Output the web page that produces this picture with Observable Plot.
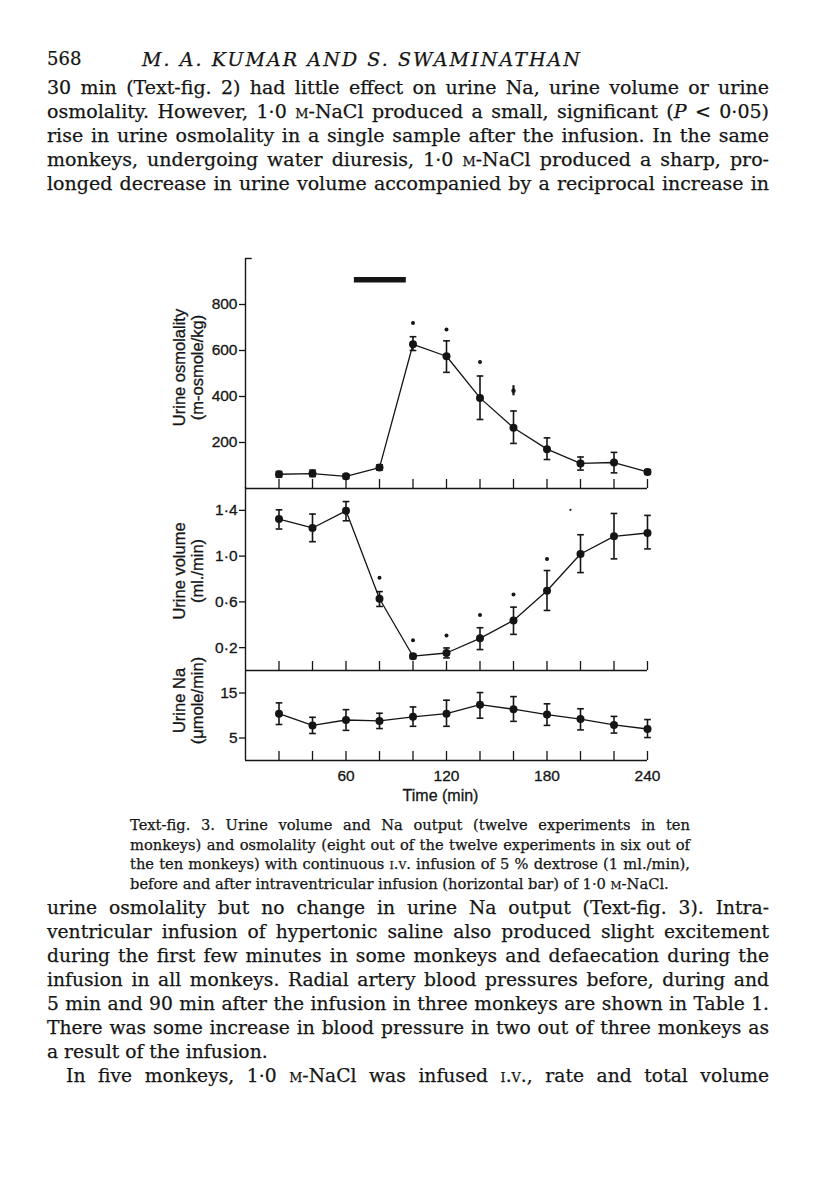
<!DOCTYPE html>
<html><head><meta charset="utf-8">
<script src="https://cdn.jsdelivr.net/npm/d3@7"></script>
<script src="https://cdn.jsdelivr.net/npm/@observablehq/plot@0.6"></script>
<style>
html,body{margin:0;padding:0;background:#fff;}
#page{position:relative;width:816px;height:1199px;overflow:hidden;background:#fff;}
.ln{position:absolute;white-space:nowrap;font-family:"DejaVu Serif",serif;color:#151515;transform-origin:0 50%;-webkit-text-stroke:0.25px #151515;}
.j{text-align:justify;text-align-last:justify;}
.sc{font-variant:small-caps;}
.panel{position:absolute;left:0;}
.panel text{stroke:#151515;stroke-width:0.3px;}
</style></head><body><div id="page"></div>
<script>
// ---------- data ----------
const time = [20, 40, 60, 80, 100, 120, 140, 160, 180, 200, 220, 240];
const osmMean = [62, 65, 53, 91, 627, 575, 394, 264, 171, 109, 113, 72];
const osmLow  = [50, 52, 43, 80, 600, 505, 300, 196, 126, 80, 68, 62];
const osmHigh = [74, 80, 63, 103, 660, 642, 489, 337, 220, 137, 157, 82];
const volMean = [1.324, 1.246, 1.396, 0.627, 0.125, 0.153, 0.281, 0.438, 0.697, 1.019, 1.173, 1.202];
const volLow  = [1.237, 1.126, 1.309, 0.56, 0.105, 0.11, 0.183, 0.316, 0.525, 0.856, 0.976, 1.063];
const volHigh = [1.405, 1.368, 1.477, 0.69, 0.145, 0.197, 0.374, 0.554, 0.874, 1.187, 1.373, 1.356];
const naMean = [10.4, 7.8, 9.0, 8.8, 9.7, 10.4, 12.4, 11.4, 10.2, 9.2, 7.9, 7.0];
const naLow  = [8.0, 6.0, 6.7, 7.1, 7.6, 7.6, 9.4, 8.7, 7.8, 6.8, 6.1, 5.1];
const naHigh = [12.8, 9.6, 11.3, 10.5, 11.9, 13.4, 15.1, 14.2, 12.6, 11.5, 9.8, 9.1];
const osmSigTime = [100, 120, 140];
const osmSigValue = [720, 691, 550];
const osmMarkTime = [160];
const osmMarkLow = [403];
const osmMarkHigh = [447];
const volSigTime = [80, 100, 120, 140, 160, 180];
const volSigValue = [0.81, 0.264, 0.307, 0.485, 0.665, 0.975];
const volStrayTime = [194];
const volStrayValue = [1.405];
const infusionStart = [65];
const infusionEnd = [96];
const infusionLevel = [908];
const timeTicks = [20, 40, 60, 80, 100, 120, 140, 160, 180, 200, 220, 240];
const timeLabels = [60, 120, 180, 240];
const osmTicks = [200, 400, 600, 800];
const volTicks = [0.2, 0.6, 1.0, 1.4];
const naTicks = [5, 15];
const xTitle = "Time (min)";
const osmLabel = "Urine osmolality\n(m-osmole/kg)";
const volLabel = "Urine volume\n(ml./min)";
const naLabel = "Urine Na\n(\u03bcmole/min)";

// ---------- text ----------
const pageNumber = "568";
const runningHead = "M. A. KUMAR AND S. SWAMINATHAN";
const bodyTop = [
  "30 min (Text-fig. 2) had little effect on urine Na, urine volume or urine",
  "osmolality. However, 1·0 <span class='sc'>m</span>-NaCl produced a small, significant (<i>P</i> &lt; 0·05)",
  "rise in urine osmolality in a single sample after the infusion. In the same",
  "monkeys, undergoing water diuresis, 1·0 <span class='sc'>m</span>-NaCl produced a sharp, pro-",
  "longed decrease in urine volume accompanied by a reciprocal increase in"
];
const caption = [
  "Text-fig. 3. Urine volume and Na output (twelve experiments in ten",
  "monkeys) and osmolality (eight out of the twelve experiments in six out of",
  "the ten monkeys) with continuous <span class='sc'>i.v.</span> infusion of 5 % dextrose (1 ml./min),",
  "before and after intraventricular infusion (horizontal bar) of 1·0 <span class='sc'>m</span>-NaCl."
];
const bodyBottom = [
  "urine osmolality but no change in urine Na output (Text-fig. 3). Intra-",
  "ventricular infusion of hypertonic saline also produced slight excitement",
  "during the first few minutes in some monkeys and defaecation during the",
  "infusion in all monkeys. Radial artery blood pressures before, during and",
  "5 min and 90 min after the infusion in three monkeys are shown in Table 1.",
  "There was some increase in blood pressure in two out of three monkeys as",
  "a result of the infusion.",
  "In five monkeys, 1·0 <span class='sc'>m</span>-NaCl was infused <span class='sc'>i.v.</span>, rate and total volume"
];

const page = document.getElementById("page");
const ink = "#151515";

// lines keep their font height; they are narrowed horizontally if needed, then justified
function addLines(lines, {left, width, cys, size, lh, justify, indents = [], italic = false, maxScale = 1}) {
  const els = lines.map((html, i) => {
    const d = document.createElement("div");
    d.className = "ln";
    const ind = indents[i] || 0;
    d.style.left = (left + ind) + "px";
    d.style.width = (width - ind) + "px";
    d.style.top = (cys[i] - lh / 2) + "px";
    d.style.height = lh + "px";
    d.style.lineHeight = lh + "px";
    d.style.fontSize = size + "px";
    if (italic) d.style.fontStyle = "italic";
    d.innerHTML = "<span>" + html + "</span>";
    page.appendChild(d);
    return d;
  });
  let f = maxScale;
  els.forEach((d, i) => {
    const w = d.firstChild.getBoundingClientRect().width;
    const avail = width - (indents[i] || 0);
    if (justify[i]) f = Math.min(f, avail / w * 0.99);
  });
  els.forEach((d, i) => {
    const avail = width - (indents[i] || 0);
    d.style.width = (avail / f) + "px";
    d.style.transform = "scaleX(" + f + ")";
    if (justify[i]) d.classList.add("j");
  });
  return els;
}

// running head
addLines([pageNumber], {left: 47, width: 60, cys: [59], size: 18, lh: 24, justify: [false]});
const rh = addLines([runningHead], {left: 142, width: 460, cys: [59], size: 19, lh: 24, justify: [false], italic: true})[0];
{
  const w = rh.firstChild.getBoundingClientRect().width;
  const n = runningHead.length - 1;
  rh.style.letterSpacing = ((438 - w) / n) + "px";
}
addLines(bodyTop, {left: 47, width: 722, cys: [87, 111, 135, 159, 183], size: 19, lh: 24, justify: [true, true, true, true, true]});
addLines(caption, {left: 130, width: 560, cys: [826, 845.5, 865, 884.5], size: 15, lh: 19.5, justify: [true, true, true, false]});
addLines(bodyBottom, {left: 47, width: 722, cys: [907, 931, 955, 979, 1003, 1027, 1051, 1075], size: 19, lh: 24,
  justify: [true, true, true, true, true, true, false, true], indents: [0, 0, 0, 0, 0, 0, 0, 19]});

// ---------- chart panels ----------
const rowsOf = (mean, low, high) => time.map((t, i) => ({t, v: mean[i], lo: low[i], hi: high[i]}));

function panel({top, height, mt, mb, domain, ticks, fmt, rows, label, labelDy, extra = [], bottom = false}) {
  const frameH = height - mt - mb;
  const marks = [
    Plot.ruleX([0], {stroke: ink, strokeWidth: 1.4}),
    Plot.ruleY([0], {stroke: ink, strokeWidth: 1.4}),
    Plot.ruleX(timeTicks, {insetTop: frameH - 9, stroke: ink, strokeWidth: 1.3}),
    Plot.axisY({ticks, tickFormat: fmt, tickSize: 6, tickPadding: 2, label: null, fontSize: 15.5, strokeWidth: 1.3}),
    Plot.ruleX(rows, {x: "t", y1: "lo", y2: "hi", stroke: ink, strokeWidth: 1.6}),
    Plot.link(rows, {x1: (d) => d.t - 2, x2: (d) => d.t + 2, y1: "lo", y2: "lo", stroke: ink, strokeWidth: 1.6}),
    Plot.link(rows, {x1: (d) => d.t - 2, x2: (d) => d.t + 2, y1: "hi", y2: "hi", stroke: ink, strokeWidth: 1.6}),
    Plot.line(rows, {x: "t", y: "v", stroke: ink, strokeWidth: 1.3}),
    Plot.dot(rows, {x: "t", y: "v", r: 4, fill: ink}),
    Plot.text([label], {text: (d) => d, frameAnchor: "left", textAnchor: "middle", lineAnchor: "middle", rotate: -90, dx: -57, dy: labelDy, fontSize: 16.5, lineHeight: 1.1, fill: ink}),
    ...extra
  ];
  if (bottom) {
    marks.push(Plot.axisX({ticks: timeLabels, tickSize: 0, tickPadding: 9, label: null, fontSize: 15.5}));
    marks.push(Plot.text([xTitle], {text: (d) => d, frameAnchor: "bottom", textAnchor: "middle", dy: 40, dx: -6, fontSize: 16, fill: ink}));
  }
  const svg = Plot.plot({
    width: 816, height, marginTop: mt, marginBottom: mb, marginLeft: 245, marginRight: 169,
    x: {domain: [0, 240], axis: null},
    y: {domain, axis: null},
    style: {background: "transparent", overflow: "visible", fontFamily: "'Liberation Sans', Arial, sans-serif", fontSize: "14px", color: ink},
    marks
  });
  svg.classList.add("panel");
  svg.style.top = top + "px";
  page.appendChild(svg);
}

const dotFmt = (d) => d.toFixed(1).replace(".", "\u00b7");

panel({
  top: 250, height: 240, mt: 8, mb: 2, domain: [0, 1000], ticks: osmTicks, fmt: (d) => String(d),
  rows: rowsOf(osmMean, osmLow, osmHigh), label: osmLabel, labelDy: -6,
  extra: [
    Plot.ruleY([1000], {x1: 0, x2: 4, stroke: ink, strokeWidth: 1.4}),
    Plot.ruleY(infusionLevel.map((y, i) => ({y, a: infusionStart[i], b: infusionEnd[i]})), {y: "y", x1: "a", x2: "b", stroke: ink, strokeWidth: 5.5}),
    Plot.dot(osmSigTime.map((t, i) => ({t, v: osmSigValue[i]})), {x: "t", y: "v", r: 2, fill: ink}),
    Plot.ruleX(osmMarkTime.map((t, i) => ({t, lo: osmMarkLow[i], hi: osmMarkHigh[i]})), {x: "t", y1: "lo", y2: "hi", stroke: ink, strokeWidth: 2.2}),
    Plot.dot(osmMarkTime.map((t, i) => ({t, v: (osmMarkLow[i] + osmMarkHigh[i]) / 2})), {x: "t", y: "v", r: 2.2, fill: ink})
  ]
});

panel({
  top: 480, height: 192, mt: 7, mb: 2, domain: [0, 1.6], ticks: volTicks, fmt: dotFmt,
  rows: rowsOf(volMean, volLow, volHigh), label: volLabel, labelDy: -8,
  extra: [
    Plot.dot(volSigTime.map((t, i) => ({t, v: volSigValue[i]})), {x: "t", y: "v", r: 2, fill: ink}),
    Plot.dot(volStrayTime.map((t, i) => ({t, v: volStrayValue[i]})), {x: "t", y: "v", r: 1.1, fill: ink})
  ]
});

panel({
  top: 630, height: 190, mt: 40, mb: 60, domain: [0, 20], ticks: naTicks, fmt: (d) => String(d),
  rows: rowsOf(naMean, naLow, naHigh), label: naLabel, labelDy: -15, bottom: true
});
</script>
</body></html>
